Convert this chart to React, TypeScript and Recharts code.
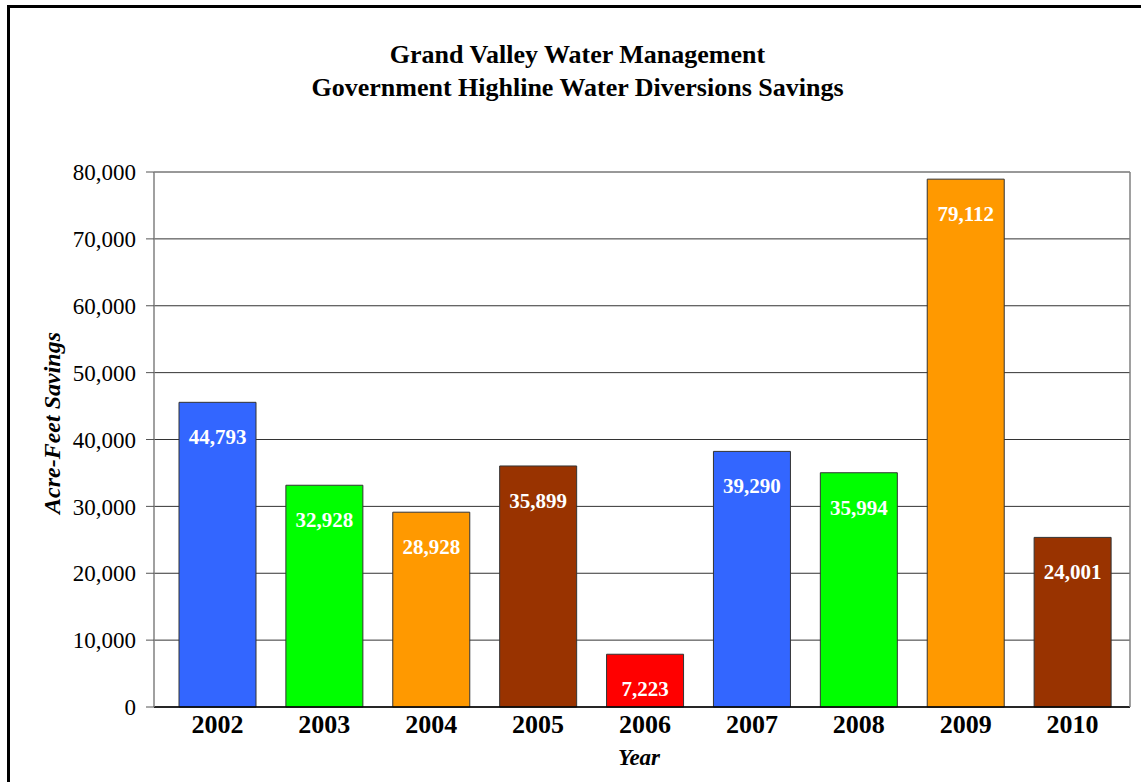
import React from 'react';
import { BarChart, Bar, XAxis, YAxis, CartesianGrid, Cell, LabelList } from 'recharts';

const years = ['2002', '2003', '2004', '2005', '2006', '2007', '2008', '2009', '2010'];
const savings = [45560, 33160, 29130, 36040, 7890, 38220, 35030, 78930, 25360];
const valueLabels = ['44,793', '32,928', '28,928', '35,899', '7,223', '39,290', '35,994', '79,112', '24,001'];
const barColors = ['#3366FF', '#00FF00', '#FF9900', '#993300', '#FF0000', '#3366FF', '#00FF00', '#FF9900', '#993300'];
const yTicks = [0, 10000, 20000, 30000, 40000, 50000, 60000, 70000, 80000];

const data = years.map((year, i) => ({ year, savings: savings[i], label: valueLabels[i] }));

const FONT = '"Liberation Serif", "Times New Roman", serif';

const BarValue = (props: any) => {
  const { x, y, width, value } = props;
  return (
    <text
      x={x + width / 2}
      y={y + 35}
      textAnchor="middle"
      dominantBaseline="central"
      fill="#ffffff"
      fontWeight="bold"
      fontSize={21}
      fontFamily={FONT}
    >
      {value}
    </text>
  );
};

export default function App() {
  return (
    <div style={{ position: 'absolute', left: 0, top: 0, width: 1141, height: 782, overflow: 'hidden', background: '#fff' }}>
      <div
        style={{
          position: 'absolute',
          left: 7,
          top: 5,
          width: 1300,
          height: 1000,
          border: '3px solid #000',
          boxSizing: 'border-box',
        }}
      />
      <div
        style={{
          position: 'absolute',
          left: 0,
          top: 38,
          width: 1155,
          textAlign: 'center',
          fontFamily: FONT,
          fontWeight: 'bold',
          fontSize: 26,
          lineHeight: '33px',
          color: '#000',
        }}
      >
        <div>Grand Valley Water Management</div>
        <div>Government Highline Water Diversions Savings</div>
      </div>
      <div style={{ position: 'absolute', left: 0, top: 0 }}>
        <BarChart
          width={1141}
          height={782}
          data={data}
          margin={{ top: 172, right: 0, bottom: 30, left: 0 }}
        >
          <CartesianGrid vertical={false} stroke="#333" strokeWidth={1} />
          <XAxis
            dataKey="year"
            height={45}
            padding={{ left: 10, right: 4 }}
            tickLine={false}
            axisLine={{ stroke: '#000', strokeWidth: 1.5 }}
            tick={{ fill: '#000', fontSize: 26, fontWeight: 'bold', fontFamily: FONT }}
            interval={0}
            label={(p: any) => {
              const vb = p.viewBox;
              return (
                <text
                  x={vb.x + vb.width / 2 - 3}
                  y={765}
                  textAnchor="middle"
                  fontFamily={FONT}
                  fontWeight="bold"
                  fontStyle="italic"
                  fontSize={23}
                  fill="#000"
                >
                  Year
                </text>
              );
            }}
          />
          <YAxis
            width={154}
            domain={[0, 80000]}
            ticks={yTicks}
            interval={0}
            tickSize={8}
            tickMargin={10}
            tickLine={{ stroke: '#555' }}
            axisLine={{ stroke: '#808080', strokeWidth: 1.5 }}
            tick={{ fill: '#000', fontSize: 23, fontFamily: FONT }}
            tickFormatter={(v: number) => v.toLocaleString('en-US')}
            label={() => (
              <text
                x={60}
                y={423}
                transform="rotate(-90 60 423)"
                textAnchor="middle"
                fontFamily={FONT}
                fontWeight="bold"
                fontStyle="italic"
                fontSize={24}
                fill="#000"
              >
                Acre-Feet Savings
              </text>
            )}
          />
          <YAxis
            yAxisId="r"
            orientation="right"
            width={11}
            domain={[0, 80000]}
            tick={false}
            tickLine={false}
            axisLine={{ stroke: '#808080', strokeWidth: 1.5 }}
          />
          <Bar dataKey="savings" barSize={77} stroke="#333" strokeWidth={1} isAnimationActive={false}>
            {data.map((d, i) => (
              <Cell key={d.year} fill={barColors[i]} />
            ))}
            <LabelList dataKey="label" content={BarValue} />
          </Bar>
        </BarChart>
      </div>
    </div>
  );
}
